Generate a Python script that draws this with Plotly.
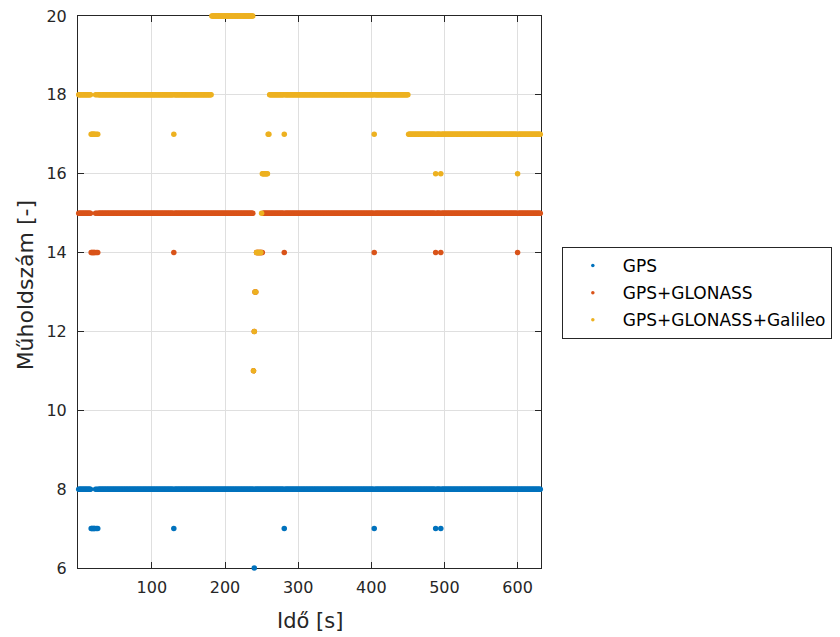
import plotly.graph_objects as go

# Time axis (s), one sample per second
t_first, t_last = 0, 631

# ---- values ----
# constant segments: (start, end, value)
gps_segments = [(0, 631, 8)]
glo_segments = [(0, 239, 15), (252, 631, 15)]
gal_segments = [(0, 181, 18), (182, 238, 20), (261, 450, 18), (451, 631, 17)]

# isolated samples that deviate from the segments: (time, value)
gps_points = [(17, 7), (18, 7), (19, 7), (20, 7), (21, 7), (22, 7), (24, 7), (26, 7),
              (130, 7), (240, 6), (281, 7), (404, 7), (488, 7), (495, 7)]
glo_points = [(17, 14), (18, 14), (19, 14), (20, 14), (21, 14), (22, 14), (24, 14), (26, 14),
              (130, 14), (239, 11), (240, 12), (241, 13), (242, 13),
              (243, 14), (244, 14), (245, 14), (246, 14), (247, 14), (248, 14), (249, 14),
              (250, 14), (251, 14),
              (281, 14), (404, 14), (488, 14), (495, 14), (600, 14)]
gal_points = [(17, 17), (18, 17), (19, 17), (20, 17), (21, 17), (22, 17), (24, 17), (26, 17),
              (130, 17), (239, 11), (240, 12), (241, 13), (242, 13),
              (243, 14), (244, 14), (245, 14), (246, 14), (247, 14), (248, 14), (249, 14),
              (250, 15), (251, 16), (252, 16), (253, 16), (254, 16), (255, 16), (256, 16),
              (257, 16), (258, 16), (259, 17), (260, 17),
              (281, 17), (404, 17), (488, 16), (495, 16), (600, 16)]

series_names = ["GPS", "GPS+GLONASS", "GPS+GLONASS+Galileo"]
series_colors = ["#0072BD", "#D95319", "#EDB120"]

x_ticks = [100, 200, 300, 400, 500, 600]
y_ticks = [6, 8, 10, 12, 14, 16, 18, 20]


def build(segments, points):
    vals = {}
    for a, b, v in segments:
        for k in range(a, b + 1):
            vals[k] = v
    for k, v in points:
        vals[k] = v
    xs = sorted(vals)
    return xs, [vals[k] for k in xs]


data = [build(gps_segments, gps_points),
        build(glo_segments, glo_points),
        build(gal_segments, gal_points)]

fig = go.Figure()
for (xs, ys), name, col in zip(data, series_names, series_colors):
    fig.add_trace(go.Scatter(x=xs, y=ys, mode="markers", name=name, showlegend=False,
                             marker=dict(color=col, size=5.5, line=dict(width=0)),
                             cliponaxis=False))
# legend entries with small dots (MATLAB '.' style)
for name, col in zip(series_names, series_colors):
    fig.add_trace(go.Scatter(x=[None], y=[None], mode="markers", name=name,
                             legendgroup=name,
                             marker=dict(color=col, size=3.5)))

axis_common = dict(
    showline=True, linecolor="#262626", linewidth=1, mirror="ticks",
    ticks="inside", ticklen=6, tickwidth=1, tickcolor="#262626",
    showgrid=True, gridcolor="#dfdfdf", gridwidth=1, zeroline=False,
    tickfont=dict(family="DejaVu Sans", size=16, color="#262626"),
    layer="below traces", automargin=False, ticklabeloverflow="allow",
)

# the page body adds an 8 px offset, so the figure is 8 px smaller and margins shifted
fig.update_layout(
    width=832, height=629,
    margin=dict(l=70, r=299, t=8, b=69, autoexpand=False),
    paper_bgcolor="white", plot_bgcolor="white",
    xaxis=dict(range=[-1, 632], tickvals=x_ticks, ticklabelstandoff=5, **axis_common),
    yaxis=dict(range=[6, 20], tickvals=y_ticks, ticklabelstandoff=7, **axis_common),
    legend=dict(x=1.045, y=0.5815, xanchor="left", yanchor="top",
                bordercolor="#262626", borderwidth=1, bgcolor="white",
                font=dict(family="DejaVu Sans", size=17, color="#000000"),
                itemwidth=50, tracegroupgap=2),
    annotations=[
        dict(text="Idő [s]", xref="paper", yref="paper", x=0.5, y=-0.0969,
             xanchor="center", yanchor="middle", showarrow=False,
             font=dict(family="DejaVu Sans", size=21, color="#262626")),
        dict(text="Műholdszám [-]", xref="paper", yref="paper", x=-0.1145, y=0.512,
             xanchor="center", yanchor="middle", showarrow=False, textangle=-90,
             font=dict(family="DejaVu Sans", size=22, color="#262626")),
    ],
)

fig.write_html("out.html")
